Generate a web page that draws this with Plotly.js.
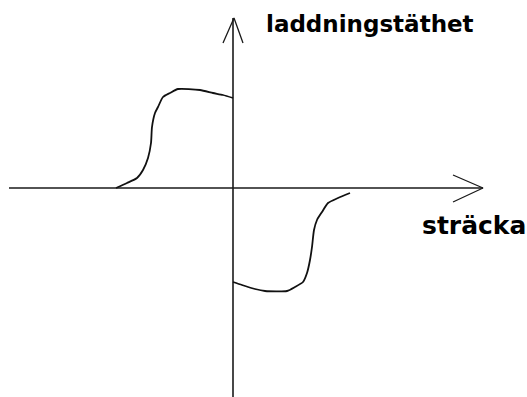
<!DOCTYPE html>
<html>
<head>
<meta charset="utf-8">
<script src="https://cdn.plot.ly/plotly-3.0.1.min.js"></script>
<style>html,body{margin:0;padding:0;background:#fff;}#chart{width:527px;height:397px;}</style>
</head>
<body>
<div id="chart"></div>
<script>
// Charge density profile (sträcka vs laddningstäthet)
const distance = [-117, -106, -96, -90, -85, -82, -81, -78, -75, -70, -63, -55, -33, -20, -10, 0];
const density  = [0, 5, 10, 18, 30, 45, 61, 75, 81, 91, 95, 99, 98, 95, 93, 90];
const distance2 = [0, 9, 22, 32, 54, 62, 70, 74, 77, 79, 81, 84, 89, 95, 105, 117];
const density2  = [-94, -97, -101, -103, -103, -99, -94, -85, -72, -59, -42, -32, -24, -15, -10, -5];

// Axis extents and arrow geometry
const xAxisLine = {x: [-224, 250], y: [0, 0]};
const xArrow = {x: [220, 250, 220], y: [13, 0, -14]};
const yAxisLine = {x: [0, 0], y: [-212, 170]};
const yArrow = {x: [-10, 1, 10], y: [145, 170, 145]};
const labels = {y: 'laddningstäthet', x: 'sträcka'};

const axisStyle = {color: '#1a1a1a', width: 1.6};
const traces = [
  {x: xAxisLine.x, y: xAxisLine.y, mode: 'lines', line: axisStyle, hoverinfo: 'skip'},
  {x: xArrow.x, y: xArrow.y, mode: 'lines', line: {color: '#1a1a1a', width: 1.3}, hoverinfo: 'skip'},
  {x: yAxisLine.x, y: yAxisLine.y, mode: 'lines', line: axisStyle, hoverinfo: 'skip'},
  {x: yArrow.x, y: yArrow.y, mode: 'lines', line: {color: '#1a1a1a', width: 1.3}, hoverinfo: 'skip'},
  {x: distance, y: density, mode: 'lines', line: {color: '#111', width: 1.8, shape: 'spline', smoothing: 0.6}},
  {x: distance2, y: density2, mode: 'lines', line: {color: '#111', width: 1.8, shape: 'spline', smoothing: 0.6}}
];

const layout = {
  width: 527, height: 397,
  margin: {l: 0, r: 0, t: 0, b: 0},
  paper_bgcolor: '#fff', plot_bgcolor: '#fff',
  showlegend: false,
  xaxis: {range: [-233, 294], visible: false, fixedrange: true},
  yaxis: {range: [-209, 188], visible: false, fixedrange: true},
  annotations: [
    {x: 31, y: 164, xref: 'x', yref: 'y', xanchor: 'left', yanchor: 'middle', showarrow: false,
     text: labels.y, font: {family: 'DejaVu Sans', size: 23, color: '#000', weight: 'bold'}},
    {x: 187, y: -37, xref: 'x', yref: 'y', xanchor: 'left', yanchor: 'middle', showarrow: false,
     text: labels.x, font: {family: 'DejaVu Sans', size: 25, color: '#000', weight: 'bold'}}
  ]
};

Plotly.newPlot('chart', traces, layout, {staticPlot: true, displayModeBar: false});
</script>
</body>
</html>
